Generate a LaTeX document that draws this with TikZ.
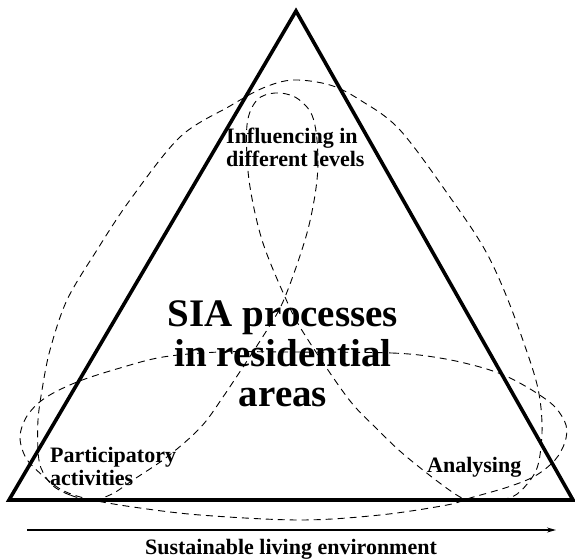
\documentclass[tikz,border=0pt]{standalone}
\usepackage{fontspec}
\setmainfont{Liberation Serif}
\usetikzlibrary{arrows.meta}

\begin{document}
\begin{tikzpicture}[
    x=1pt, y=-1pt,
    triline/.style={line width=3.6pt, line join=miter},
    petal/.style={dash pattern=on 7pt off 5pt, line width=0.9pt},
    lbl/.style={font=\bfseries\fontsize{22}{23}\selectfont, align=left, inner sep=0pt, anchor=base west},
    title/.style={font=\bfseries\fontsize{39}{40}\selectfont, align=center, inner sep=0pt, anchor=base},
    arrow/.style={-{Stealth[length=9pt, width=5pt]}, line width=1.2pt}
]
    \useasboundingbox (0,0) rectangle (575,559);

    \coordinate (apex) at (296,11);
    \coordinate (lcorner) at (9,500);
    \coordinate (rcorner) at (573,500);
    \draw[triline] (apex) -- (lcorner) -- (rcorner) -- cycle;

    \draw[petal] plot[smooth cycle, tension=0.55] coordinates {
        (92,500) (70,495) (52,485) (41,468) (38,450) (38,420) (42,390)
        (50,350) (67,300) (97,250) (130,200) (180,137) (230,106) (263,88)
        (293,80) (330,85) (360,100) (400,130) (452,200) (485,250) (508,300)
        (532,367) (540,400) (542,433) (538,465) (528,483) (512,497) (485,501)
        (460,497) (408,458) (375,427) (347,397) (303,332) (285,297) (262,240)
        (249,180) (247,125) (257,100) (275,93) (295,97) (311,113) (317,140)
        (317,180) (307,233) (285,297) (267,330) (223,397) (200,428) (167,457)
        (133,480) (112,494)};
    \draw[petal] plot[smooth cycle, tension=0.55] coordinates {
        (290,352) (392,353) (440,358) (480,367) (508,377) (535,392) (555,407)
        (566,425) (565,442) (555,460) (535,476) (508,487) (470,498) (447,505)
        (380,515) (300,520) (200,515) (133,507) (88,499) (62,490) (42,475)
        (26,458) (20,437) (27,416) (45,398) (77,382) (120,368) (163,357)
        (220,352)};

    \node[lbl] (influence) at (226,166) {Influencing in\\different levels};
    \node[lbl] (particip) at (50,485) {Participatory\\activities};
    \node[lbl] (analyse) at (427,472) {Analysing};
    \node[title] (sia) at (283,406) {SIA processes\\in residential\\areas};

    \coordinate (envstart) at (27,530);
    \coordinate (envend) at (556,530);
    \draw[arrow] (envstart) -- (envend);
    \node[font=\bfseries\fontsize{22}{23}\selectfont, inner sep=0pt, anchor=base] (env) at (291,554) {Sustainable living environment};
\end{tikzpicture}
\end{document}
